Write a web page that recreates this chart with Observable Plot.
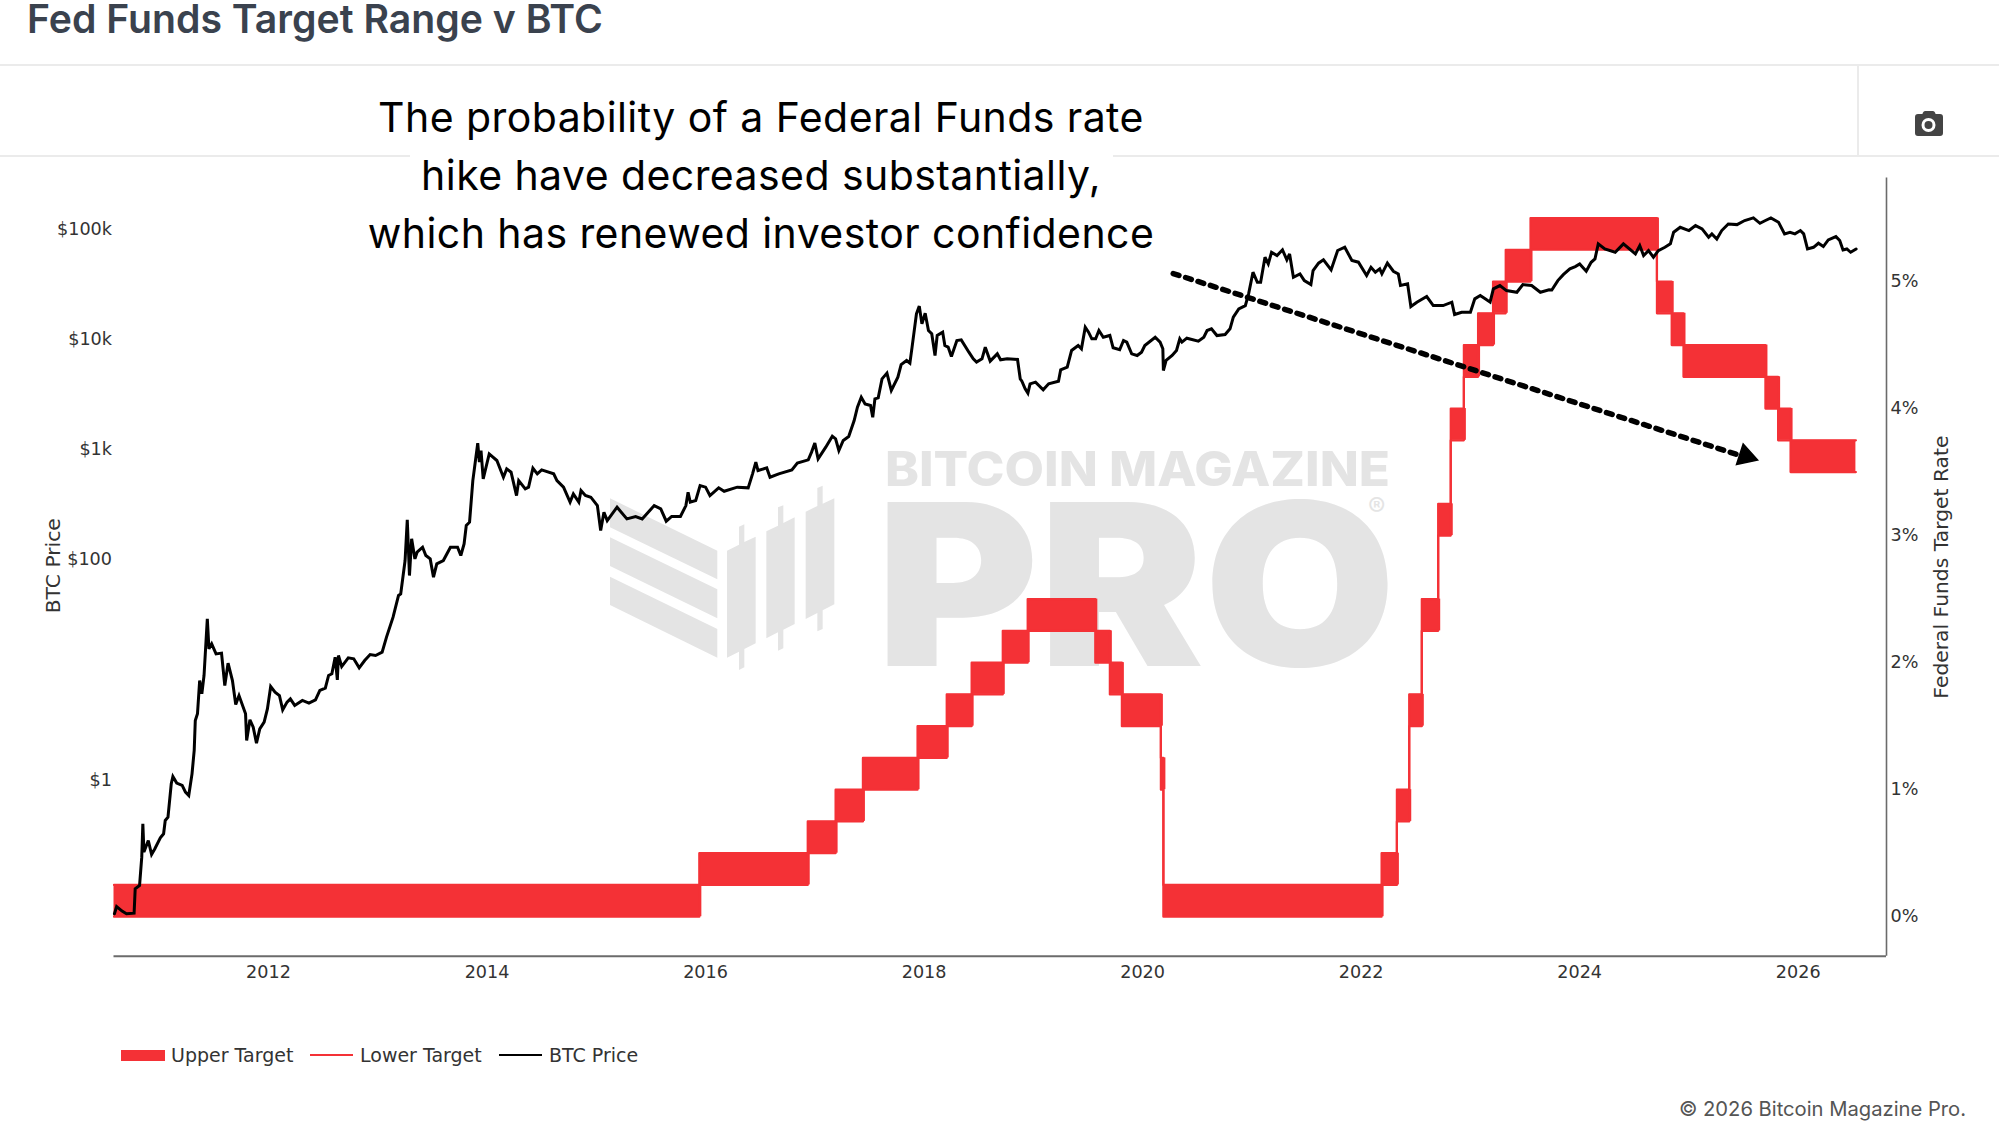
<!DOCTYPE html>
<html>
<head>
<meta charset="utf-8">
<script src="https://cdn.jsdelivr.net/npm/d3@7"></script>
<script src="https://cdn.jsdelivr.net/npm/@observablehq/plot@0.6"></script>
<style>
html,body{margin:0;padding:0;background:#fff;}
#page{position:relative;width:1999px;height:1124px;overflow:hidden;background:#fff;}
#page>*{position:absolute;}
.hair{background:#ebebeb;}
#title{left:27px;top:0;font:600 39.2px/38px Inter,sans-serif;color:#3a424e;white-space:nowrap;}
#note{left:261px;width:1000px;top:88px;text-align:center;font:400 41px/58px Inter,sans-serif;color:#000;letter-spacing:0.43px;}
.lg{font:19px "DejaVu Sans",sans-serif;color:#333;top:1044px;white-space:nowrap;line-height:22px;}
#copy{right:33px;top:1097px;font:400 20.2px Inter,sans-serif;color:#555;white-space:nowrap;line-height:24px;}
</style>
</head>
<body>
<div id="page">
  <svg id="wm-logo" style="left:590px;top:430px;" width="420" height="260" viewBox="0 0 1260 780" fill="#e4e4e4">
    <polygon points="60,205 382,362 382,448 60,292"/>
    <polygon points="60,322 382,478 382,565 60,408"/>
    <polygon points="60,440 382,597 382,683 60,525"/>
    <polygon points="411,362 447,344 447,290 463,283 463,336 497,320 497,640 463,657 463,712 447,720 447,665 411,683"/>
    <polygon points="529,304 564,287 564,232 580,226 580,279 614,262 614,582 580,599 580,655 564,662 564,607 529,625"/>
    <polygon points="647,245 682,228 682,174 698,167 698,221 733,205 733,523 698,541 698,597 682,604 682,549 647,567"/>
  </svg>
  <svg id="wm-text" style="left:0;top:0;" width="1999" height="1124" fill="#e4e4e4" font-family="Inter,sans-serif">
    <text x="885" y="485.5" font-size="47.5" font-weight="800" textLength="505" lengthAdjust="spacingAndGlyphs">BITCOIN MAGAZINE</text>
    <text x="876" y="666" font-size="226" font-weight="900" textLength="520" lengthAdjust="spacingAndGlyphs">PRO</text>
    <text x="1368" y="516" font-size="26">®</text>
  </svg>
  <div class="hair" style="left:0;top:63.5px;width:1999px;height:2px;"></div>
  <div class="hair" style="left:0;top:154.5px;width:410px;height:2px;"></div>
  <div class="hair" style="left:1113px;top:154.5px;width:886px;height:2px;"></div>
  <div class="hair" style="left:1857px;top:64px;width:1.5px;height:91px;"></div>
  <div id="title">Fed Funds Target Range v BTC</div>
  <div id="note">The probability of a Federal Funds rate<br>hike have decreased substantially,<br>which has renewed investor confidence</div>
  <svg id="camera" style="left:1915px;top:110px;" width="28" height="27" viewBox="0 0 28 27">
    <path d="M8 2.5 Q8.6 1 10 1 H18 Q19.4 1 20 2.5 L20.6 4 H25 Q28 4 28 7 V23 Q28 26 25 26 H3 Q0 26 0 23 V7 Q0 4 3 4 H7.4 Z" fill="#444"/>
    <circle cx="13.5" cy="15" r="7" fill="#fff"/><circle cx="13.5" cy="15" r="4" fill="#444"/>
  </svg>
  <div style="left:121px;top:1049.5px;width:43.5px;height:11px;background:#f43136;"></div>
  <div class="lg" style="left:171px;">Upper Target</div>
  <div style="left:310px;top:1053.5px;width:43px;height:2.5px;background:#f43136;"></div>
  <div class="lg" style="left:360px;">Lower Target</div>
  <div style="left:499px;top:1053.5px;width:43px;height:2.5px;background:#000;"></div>
  <div class="lg" style="left:549px;">BTC Price</div>
  <div id="copy">© 2026 Bitcoin Magazine Pro.</div>
</div>
<script>
// Fed funds target range: date each level starts (decimal year) and lower bound (%)
const rateStart = [2010.586,2015.943,2016.935,2017.19,2017.44,2017.94,2018.207,2018.435,2018.72,2018.948,2019.567,2019.70,2019.81,2020.167,2020.19,2022.187,2022.327,2022.44,2022.555,2022.705,2022.82,2022.94,2023.07,2023.207,2023.323,2023.55,2024.707,2024.842,2024.95,2025.70,2025.816,2025.93];
const rateLower = [0,0.25,0.5,0.75,1,1.25,1.5,1.75,2,2.25,2,1.75,1.5,1,0,0.25,0.75,1.5,2.25,3,3.75,4.25,4.5,4.75,5,5.25,4.75,4.5,4.25,4,3.75,3.5];
const rateEnd = 2026.528;
const rateBandWidth = 0.25;

// BTC price: decimal year and log10 of the dollar price
const btcYear = [2010.59,2010.61,2010.66,2010.70,2010.77,2010.78,2010.82,2010.84,2010.85,2010.86,2010.90,2010.93,2010.96,2011.01,2011.04,2011.055,2011.08,2011.11,2011.125,2011.16,2011.21,2011.24,2011.27,2011.30,2011.32,2011.33,2011.35,2011.37,2011.39,2011.41,2011.44,2011.455,2011.48,2011.52,2011.57,2011.60,2011.63,2011.67,2011.70,2011.73,2011.79,2011.80,2011.83,2011.86,2011.89,2011.92,2011.96,2011.99,2012.02,2012.06,2012.10,2012.13,2012.17,2012.20,2012.24,2012.31,2012.37,2012.43,2012.47,2012.52,2012.55,2012.58,2012.61,2012.63,2012.64,2012.67,2012.73,2012.78,2012.83,2012.88,2012.93,2012.98,2013.04,2013.08,2013.14,2013.19,2013.21,2013.25,2013.27,2013.29,2013.31,2013.34,2013.36,2013.41,2013.44,2013.48,2013.51,2013.54,2013.60,2013.665,2013.73,2013.76,2013.79,2013.81,2013.84,2013.87,2013.915,2013.93,2013.945,2013.965,2014.02,2014.09,2014.15,2014.18,2014.22,2014.27,2014.29,2014.35,2014.38,2014.42,2014.46,2014.50,2014.61,2014.64,2014.70,2014.76,2014.79,2014.84,2014.86,2014.90,2014.95,2015.01,2015.04,2015.07,2015.10,2015.19,2015.28,2015.36,2015.42,2015.53,2015.59,2015.64,2015.69,2015.77,2015.82,2015.84,2015.86,2015.91,2015.95,2016.00,2016.04,2016.12,2016.17,2016.29,2016.39,2016.43,2016.46,2016.48,2016.56,2016.59,2016.67,2016.79,2016.84,2016.94,2016.97,2017.00,2017.03,2017.10,2017.16,2017.19,2017.22,2017.26,2017.31,2017.36,2017.39,2017.425,2017.46,2017.51,2017.53,2017.55,2017.58,2017.615,2017.66,2017.70,2017.76,2017.79,2017.84,2017.87,2017.89,2017.93,2017.956,2017.98,2018.01,2018.04,2018.07,2018.10,2018.12,2018.17,2018.19,2018.22,2018.25,2018.30,2018.34,2018.41,2018.45,2018.48,2018.53,2018.56,2018.605,2018.67,2018.70,2018.76,2018.855,2018.88,2018.895,2018.925,2018.95,2018.97,2019.02,2019.09,2019.14,2019.23,2019.25,2019.31,2019.35,2019.41,2019.44,2019.475,2019.505,2019.535,2019.57,2019.60,2019.64,2019.70,2019.73,2019.79,2019.825,2019.855,2019.90,2019.95,2019.99,2020.02,2020.115,2020.16,2020.185,2020.19,2020.215,2020.27,2020.31,2020.34,2020.36,2020.405,2020.51,2020.56,2020.59,2020.63,2020.68,2020.755,2020.80,2020.83,2020.88,2020.94,2020.97,2021.01,2021.05,2021.08,2021.12,2021.15,2021.18,2021.23,2021.28,2021.32,2021.345,2021.38,2021.44,2021.48,2021.54,2021.56,2021.61,2021.655,2021.725,2021.785,2021.85,2021.915,2021.975,2022.05,2022.09,2022.13,2022.17,2022.19,2022.24,2022.295,2022.34,2022.36,2022.425,2022.455,2022.51,2022.60,2022.66,2022.75,2022.83,2022.855,2022.92,2023.00,2023.04,2023.09,2023.135,2023.18,2023.21,2023.27,2023.33,2023.425,2023.48,2023.56,2023.64,2023.72,2023.745,2023.80,2023.85,2023.91,2023.96,2024.00,2024.06,2024.105,2024.14,2024.17,2024.23,2024.325,2024.40,2024.51,2024.55,2024.585,2024.63,2024.675,2024.72,2024.78,2024.83,2024.86,2024.92,2025.00,2025.06,2025.12,2025.18,2025.21,2025.255,2025.30,2025.36,2025.44,2025.51,2025.59,2025.65,2025.70,2025.75,2025.82,2025.875,2025.925,2025.97,2026.02,2026.05,2026.085,2026.14,2026.185,2026.23,2026.275,2026.345,2026.38,2026.41,2026.445,2026.48,2026.53];
const btcLog10 = [-1.223,-1.157,-1.199,-1.223,-1.217,-0.996,-0.966,-0.709,-0.406,-0.663,-0.558,-0.685,-0.633,-0.533,-0.497,-0.376,-0.346,-0.043,0.023,-0.037,-0.058,-0.119,-0.149,0.047,0.259,0.532,0.592,0.894,0.774,0.940,1.454,1.182,1.227,1.136,1.143,0.849,1.052,0.894,0.677,0.758,0.592,0.350,0.538,0.471,0.326,0.456,0.516,0.637,0.840,0.789,0.758,0.628,0.698,0.728,0.668,0.713,0.689,0.719,0.804,0.825,0.940,0.955,1.106,0.900,1.121,1.021,1.100,1.091,1.009,1.076,1.130,1.121,1.152,1.288,1.469,1.666,1.681,1.983,2.353,1.847,2.180,1.998,2.059,2.104,2.029,1.998,1.832,1.953,1.983,2.104,2.104,2.029,2.134,2.301,2.331,2.709,3.048,2.876,2.981,2.724,2.951,2.891,2.739,2.815,2.785,2.573,2.709,2.634,2.649,2.821,2.770,2.806,2.770,2.709,2.649,2.513,2.588,2.513,2.618,2.573,2.558,2.482,2.256,2.422,2.346,2.467,2.361,2.383,2.361,2.482,2.452,2.340,2.383,2.383,2.482,2.603,2.513,2.528,2.664,2.649,2.573,2.643,2.612,2.649,2.643,2.770,2.876,2.800,2.824,2.739,2.770,2.806,2.867,2.897,2.967,3.049,2.906,3.012,3.112,3.088,2.982,3.073,3.109,3.254,3.375,3.466,3.405,3.390,3.284,3.451,3.460,3.632,3.684,3.527,3.647,3.762,3.799,3.775,3.920,4.222,4.292,4.132,4.228,4.071,4.041,3.844,4.026,4.056,3.935,3.920,3.835,3.980,3.986,3.874,3.814,3.784,3.814,3.920,3.793,3.859,3.805,3.814,3.808,3.632,3.611,3.542,3.502,3.587,3.602,3.533,3.587,3.611,3.714,3.738,3.890,3.935,3.905,4.101,4.056,3.995,3.995,4.071,4.010,4.026,3.914,3.896,3.980,3.965,3.859,3.844,3.874,3.935,4.010,3.965,3.905,3.708,3.799,3.844,3.890,3.995,3.965,4.001,3.974,4.010,4.071,4.086,4.025,4.034,4.086,4.192,4.267,4.297,4.403,4.600,4.509,4.509,4.736,4.676,4.781,4.751,4.803,4.712,4.766,4.554,4.585,4.524,4.488,4.615,4.682,4.712,4.621,4.797,4.827,4.706,4.691,4.570,4.645,4.600,4.630,4.585,4.682,4.609,4.585,4.479,4.494,4.288,4.328,4.379,4.297,4.297,4.328,4.216,4.237,4.237,4.358,4.388,4.358,4.328,4.449,4.479,4.433,4.418,4.488,4.479,4.418,4.440,4.439,4.524,4.578,4.630,4.651,4.675,4.609,4.690,4.721,4.857,4.811,4.781,4.857,4.766,4.842,4.751,4.796,4.736,4.796,4.826,4.857,4.963,5.008,4.978,5.023,4.993,4.917,4.948,4.902,4.978,5.038,5.032,5.069,5.093,5.044,5.069,5.093,5.053,4.948,4.963,4.948,4.978,4.948,4.811,4.826,4.863,4.833,4.893,4.923,4.887,4.802,4.811,4.781,4.811];

// Annotation arrow, read in the same units
const arrowYear = [2020.28,2025.44];
const arrowLog10 = [4.588,2.946];
const arrowHeadYear = [2025.52];
const arrowHeadLog10 = [2.93];

// Axes
const xDomain = [2010.586,2026.808];
const rateDomain = [-0.311,5.815];
const priceDomain = [0.0261,285100];
const yearTicks = [2012,2014,2016,2018,2020,2022,2024,2026];
const rateTicks = [0,1,2,3,4,5];
const priceTicks = [1,100,1000,10000,100000];
const priceTickLabels = ["$1","$100","$1k","$10k","$100k"];

const RED = "#f43136", AXIS = "#6b6b6b", INK = "#333";
const base = {
  width:1999, height:1124,
  marginLeft:113.5, marginRight:113, marginTop:177.5,
  style:{background:"transparent", fontFamily:"'DejaVu Sans',sans-serif", fontSize:"17.6px", color:INK, overflow:"visible"}
};

const overlap = 0.023;
const bands = rateStart.map((s,i)=>({
  x1:s, x2:(i+1<rateStart.length? rateStart[i+1]+overlap : rateEnd),
  lo:rateLower[i], hi:rateLower[i]+rateBandWidth
}));
const stepEnds = bands.concat([{x1:rateEnd, lo:rateLower[rateLower.length-1], hi:rateLower[rateLower.length-1]+rateBandWidth}]);

const ratePlot = Plot.plot({...base,
  marginBottom:168.3,
  x:{domain:xDomain},
  y:{domain:rateDomain},
  marks:[
    Plot.rect(bands,{x1:"x1",x2:"x2",y1:"lo",y2:"hi",fill:RED}),
    Plot.line(stepEnds,{x:"x1",y:"hi",curve:"step-after",stroke:RED,strokeWidth:2.2}),
    Plot.line(stepEnds,{x:"x1",y:"lo",curve:"step-after",stroke:RED,strokeWidth:2.2}),
    Plot.ruleY([rateDomain[0]],{stroke:AXIS,strokeWidth:2}),
    Plot.ruleX([xDomain[1]],{stroke:AXIS,strokeWidth:1.6}),
    Plot.axisX({ticks:yearTicks,tickFormat:d=>String(d),tickSize:0,tickPadding:9.5,label:null,fontSize:17.6}),
    Plot.axisY({anchor:"right",ticks:rateTicks,tickFormat:d=>d+"%",tickSize:0,tickPadding:4,
      label:null,fontSize:17.6}),
    Plot.axisY({anchor:"right",ticks:[],tickSize:0,
      label:"Federal Funds Target Rate",labelAnchor:"center",labelArrow:"none",labelOffset:61,fontSize:20.3})
  ]
});

const btcPoints = btcYear.map((x,i)=>({x,price:10**btcLog10[i]}));
const arrowPoints = arrowYear.map((x,i)=>({x,price:10**arrowLog10[i]}));
const headPoints = arrowHeadYear.map((x,i)=>({x,price:10**arrowHeadLog10[i]}));

const btcPlot = Plot.plot({...base,
  marginBottom:171,
  x:{domain:xDomain,axis:null},
  y:{type:"log",domain:priceDomain},
  marks:[
    Plot.line(btcPoints,{x:"x",y:"price",stroke:"#000",strokeWidth:3,strokeLinejoin:"miter",strokeMiterlimit:3}),
    Plot.line(arrowPoints,{x:"x",y:"price",stroke:"#000",strokeWidth:5.5,strokeDasharray:"6,7"}),
    Plot.dot(headPoints,{x:"x",y:"price",symbol:"triangle",r:8,rotate:108,fill:"#000",stroke:"#000"}),
    Plot.axisY({anchor:"left",ticks:priceTicks,tickFormat:d=>priceTickLabels[priceTicks.indexOf(d)],tickSize:0,tickPadding:2,dy:1,
      label:null,fontSize:17.6}),
    Plot.axisY({anchor:"left",ticks:[],tickSize:0,
      label:"BTC Price",labelAnchor:"center",labelArrow:"none",labelOffset:68,fontSize:20.3})
  ]
});

const page = document.getElementById("page");
for (const p of [ratePlot, btcPlot]) { p.style.left="0"; p.style.top="0"; p.style.position="absolute"; page.appendChild(p); }
</script>
</body>
</html>
